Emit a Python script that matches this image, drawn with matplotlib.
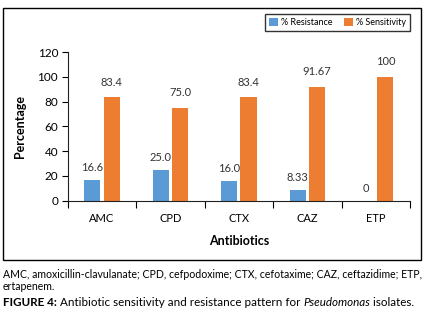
import numpy as np
import matplotlib
matplotlib.use('Agg')
import matplotlib.pyplot as plt
from matplotlib.patches import Rectangle

plt.rcParams['font.family'] = ['Lato', 'DejaVu Sans']

antibiotics = ['AMC', 'CPD', 'CTX', 'CAZ', 'ETP']
resistance = [16.6, 25.0, 16.0, 8.33, 0]
sensitivity = [83.4, 75.0, 83.4, 91.67, 100]
resistance_labels = ['16.6', '25.0', '16.0', '8.33', '0']
sensitivity_labels = ['83.4', '75.0', '83.4', '91.67', '100']

blue = '#5B9BD5'
orange = '#ED7D31'

fig = plt.figure(figsize=(4.32, 3.21), dpi=100)
ax = fig.add_axes([0.157, 0.375, 0.792, 0.463])

x = np.arange(len(antibiotics))
w = 0.235
b1 = ax.bar(x - 0.14, resistance, w, color=blue, label='% Resistance')
b2 = ax.bar(x + 0.14, sensitivity, w, color=orange, label='% Sensitivity')

for xi, v, s in zip(x, resistance, resistance_labels):
    ax.annotate(s, (xi - 0.14, v), xytext=(0, 9), textcoords='offset points',
                ha='center', va='center', fontsize=8, color='#333333')
for xi, v, s in zip(x, sensitivity, sensitivity_labels):
    ax.annotate(s, (xi + 0.14, v), xytext=(0, 11), textcoords='offset points',
                ha='center', va='center', fontsize=8, color='#333333')

ax.set_xlim(-0.5, 4.5)
ax.set_ylim(0, 120)
ax.set_yticks(range(0, 121, 20))
ax.set_xticks(np.arange(-0.5, 5, 1))
ax.set_xticklabels([])
ax.set_xticks(x, minor=True)
ax.set_xticklabels(antibiotics, minor=True)
ax.tick_params(axis='x', which='minor', length=0, labelsize=8, pad=9)
ax.tick_params(axis='x', which='major', length=5, direction='out')
ax.tick_params(axis='y', length=4, labelsize=8.5, pad=3)
for sp in ['top', 'right']:
    ax.spines[sp].set_visible(False)
for sp in ['left', 'bottom']:
    ax.spines[sp].set_color('#222222')
ax.set_xlabel('Antibiotics', fontsize=9, fontweight='bold', labelpad=8)
ax.set_ylabel('Percentage', fontsize=9, fontweight='bold', labelpad=8)

fig.legend(handles=[b1, b2], loc='center', bbox_to_anchor=(0.781, 0.93),
           ncol=2, fontsize=6.5, frameon=True, fancybox=False, edgecolor='black',
           handlelength=1.0, handleheight=1.0, handletextpad=0.4, columnspacing=1.2,
           borderpad=0.4)

fig.patches.append(Rectangle((0.007, 0.19), 0.968, 0.785, transform=fig.transFigure,
                             fill=False, edgecolor='black', linewidth=1))

fig.text(0.007, 1 - 274 / 321,
         'AMC, amoxicillin-clavulanate; CPD, cefpodoxime; CTX, cefotaxime; CAZ, ceftazidime; ETP,',
         fontsize=7.6, va='center', ha='left')
fig.text(0.007, 1 - 287 / 321, 'ertapenem.', fontsize=7.6, va='center', ha='left')

t1 = fig.text(0.007, 1 - 306 / 321, 'FIGURE 4:', fontsize=8.4, fontweight='bold',
              va='baseline', ha='left')
a2 = fig.add_artist(plt.Annotation(' Antibiotic sensitivity and resistance pattern for ',
                                   xy=(1, 0), xycoords=t1, va='bottom', ha='left',
                                   fontsize=8.4))
a3 = fig.add_artist(plt.Annotation('Pseudomonas', xy=(1, 0), xycoords=a2,
                                   va='bottom', ha='left', fontsize=8.4, style='italic'))
a4 = fig.add_artist(plt.Annotation(' isolates.', xy=(1, 0), xycoords=a3,
                                   va='bottom', ha='left', fontsize=8.4))

fig.savefig('out.png', dpi=100)
